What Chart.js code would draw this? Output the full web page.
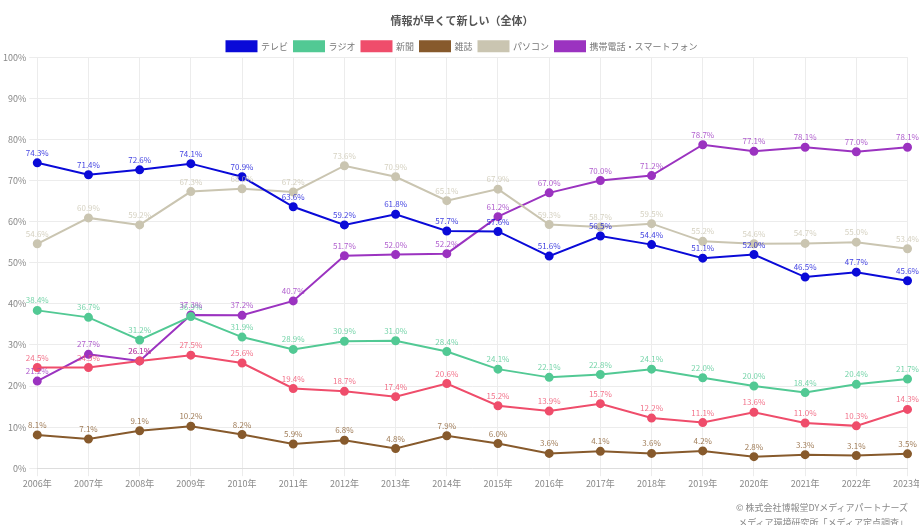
<!DOCTYPE html>
<html lang="ja">
<head>
<meta charset="utf-8">
<script src="https://cdn.jsdelivr.net/npm/chart.js@4/dist/chart.umd.min.js"></script>
<style>
  html, body { margin: 0; padding: 0; background: #fff; overflow: hidden; width: 919px; height: 525px; }
  #wrap { position: relative; width: 919px; height: 525px; overflow: hidden; }
  canvas { position: absolute; left: 0; top: 0; }
  .credit { position: absolute; right: 11px; font-family: "Noto Sans CJK JP", sans-serif; font-size: 9px; color: #888; text-align: right; white-space: nowrap; }
</style>
</head>
<body>
<div id="wrap">
  <canvas id="chart" width="924" height="525"></canvas>
  <div class="credit" style="top:501px;">© 株式会社博報堂DYメディアパートナーズ</div>
  <div class="credit" style="top:516px;">メディア環境研究所「メディア定点調査」</div>
</div>
<script>
const years = ["2006年", "2007年", "2008年", "2009年", "2010年", "2011年", "2012年", "2013年", "2014年",
  "2015年", "2016年", "2017年", "2018年", "2019年", "2020年", "2021年", "2022年", "2023年"];

const tv = [74.3, 71.4, 72.6, 74.1, 70.9, 63.6, 59.2, 61.8, 57.7, 57.6, 51.6, 56.5, 54.4, 51.1, 52.0, 46.5, 47.7, 45.6];
const radio = [38.4, 36.7, 31.2, 36.9, 31.9, 28.9, 30.9, 31.0, 28.4, 24.1, 22.1, 22.8, 24.1, 22.0, 20.0, 18.4, 20.4, 21.7];
const newspaper = [24.5, 24.5, 26.1, 27.5, 25.6, 19.4, 18.7, 17.4, 20.6, 15.2, 13.9, 15.7, 12.2, 11.1, 13.6, 11.0, 10.3, 14.3];
const magazine = [8.1, 7.1, 9.1, 10.2, 8.2, 5.9, 6.8, 4.8, 7.9, 6.0, 3.6, 4.1, 3.6, 4.2, 2.8, 3.3, 3.1, 3.5];
const pc = [54.6, 60.9, 59.2, 67.3, 68.0, 67.2, 73.6, 70.9, 65.1, 67.9, 59.3, 58.7, 59.5, 55.2, 54.6, 54.7, 55.0, 53.4];
const mobile = [21.2, 27.7, 26.1, 37.3, 37.2, 40.7, 51.7, 52.0, 52.2, 61.2, 67.0, 70.0, 71.2, 78.7, 77.1, 78.1, 77.0, 78.1];

const FONT = '"Noto Sans CJK JP", "Noto Sans", sans-serif';

function series(label, data, color) {
  return { label, data, borderColor: color, backgroundColor: color, pointBackgroundColor: color,
    pointBorderColor: color, pointRadius: 3.5, pointHoverRadius: 3.5, borderWidth: 2, tension: 0 };
}

// value labels above each point, same colour as the line
const pointLabels = {
  id: "pointLabels",
  afterDatasetsDraw(chart) {
    const ctx = chart.ctx;
    ctx.save();
    ctx.font = "8px " + FONT;
    ctx.textAlign = "center";
    ctx.textBaseline = "bottom";
    chart.data.datasets.forEach((ds, i) => {
      const meta = chart.getDatasetMeta(i);
      ctx.fillStyle = ds.borderColor;
      ctx.globalAlpha = 0.8;
      meta.data.forEach((pt, j) => {
        ctx.fillText(ds.data[j].toFixed(1) + "%", pt.x, pt.y - 6);
      });
    });
    ctx.restore();
  }
};

// legend sits tight on the plot, keep the item spacing but trim the space below it
const tightLegend = {
  id: "tightLegend",
  beforeInit(chart) {
    const fit = chart.legend.fit;
    chart.legend.fit = function () {
      fit.call(this);
      this.height -= 4;
    };
  }
};

new Chart(document.getElementById("chart"), {
  type: "line",
  data: {
    labels: years,
    datasets: [
      series("テレビ", tv, "#0a0ad8"),
      series("ラジオ", radio, "#52c994"),
      series("新聞", newspaper, "#ef4d6b"),
      series("雑誌", magazine, "#875a2c"),
      series("パソコン", pc, "#cac5b1"),
      series("携帯電話・スマートフォン", mobile, "#9b33c0"),
    ],
  },
  options: {
    responsive: false,
    animation: false,
    layout: { padding: { left: 0, right: 0, top: 4, bottom: 34 } },
    scales: {
      x: {
        offset: false,
        ticks: { color: "#888", font: { family: FONT, size: 9 }, maxRotation: 0, autoSkip: false, padding: 2 },
        grid: { color: "#ececec" },
        border: { color: "#ddd" },
      },
      y: {
        min: 0, max: 100,
        ticks: { stepSize: 10, color: "#888", font: { family: FONT, size: 9 }, callback: v => v + "%", padding: 3 },
        grid: { color: "#ececec" },
        border: { display: false },
      },
    },
    plugins: {
      title: { display: true, text: "情報が早くて新しい（全体）", color: "#555", font: { family: FONT, size: 11, weight: "bold" }, padding: { top: 10, bottom: 8 } },
      legend: {
        labels: { boxWidth: 30, boxHeight: 10, color: "#777", font: { family: FONT, size: 9 }, padding: 6 },
      },
      tooltip: { enabled: false },
    },
  },
  plugins: [pointLabels, tightLegend],
});
</script>
</body>
</html>
